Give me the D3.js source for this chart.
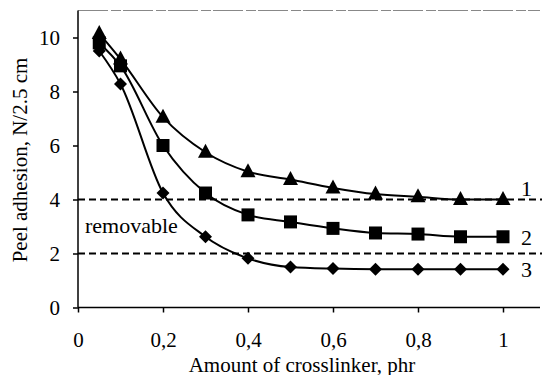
<html>
<head>
<style>
  body { margin: 0; background: #fff; }
  text { font-family: "Liberation Serif", "Times New Roman", serif; }
</style>
</head>
<body>
<div id="chart"></div>
<script src="https://d3js.org/d3.v7.min.js"></script>
<script>
// crosslinker amount, phr
var amounts = [0.05, 0.1, 0.2, 0.3, 0.4, 0.5, 0.6, 0.7, 0.8, 0.9, 1.0];
// peel adhesion, N/2.5 cm
var curve1 = [10.15, 9.2, 7.05, 5.75, 5.03, 4.74, 4.43, 4.2, 4.1, 4.0, 4.0];
var curve2 = [9.8, 8.95, 6.0, 4.24, 3.43, 3.17, 2.93, 2.76, 2.72, 2.62, 2.62];
var curve3 = [9.5, 8.28, 4.24, 2.62, 1.82, 1.5, 1.44, 1.42, 1.42, 1.42, 1.42];
var seriesNames = ["1", "2", "3"];
var limits = [4, 2];
var xTicks = [0, 0.2, 0.4, 0.6, 0.8, 1];
var yTicks = [0, 2, 4, 6, 8, 10];

var margin = { top: 10.5, left: 78 },
    height = 297;

var svg = d3.select("#chart").append("svg")
    .attr("width", 542).attr("height", 375)
    .append("g")
    .attr("transform", "translate(" + margin.left + "," + margin.top + ")");

var x = d3.scaleLinear().domain([0, 1.1]).range([0, 467.5]);
var y = d3.scaleLinear().domain([0, 11]).range([height, 0]);

// faint top border
svg.append("line")
    .attr("x1", 0).attr("x2", 462).attr("y1", 0).attr("y2", 0)
    .attr("stroke", "#888").attr("stroke-width", 1)
    .attr("stroke-dasharray", "30,3,10,2");

// dashed limit lines
svg.selectAll(".limit").data(limits).enter().append("line")
    .attr("x1", 0).attr("x2", 464)
    .attr("y1", function (d) { return y(d); })
    .attr("y2", function (d) { return y(d); })
    .attr("stroke", "black").attr("stroke-width", 2)
    .attr("stroke-dasharray", "7,4");

var xAxis = svg.append("g")
    .attr("transform", "translate(0," + height + ")")
    .call(d3.axisBottom(x).tickValues(xTicks).tickSize(5).tickPadding(20)
        .tickFormat(function (d) { return d === 0 || d === 1 ? d : String(d).replace(".", ","); }));
var yAxis = svg.append("g")
    .call(d3.axisLeft(y).tickValues(yTicks).tickSize(5).tickPadding(13));

[xAxis, yAxis].forEach(function (a) {
    a.attr("font-family", null).attr("font-size", null);
    a.select(".domain").attr("stroke-width", 1.5);
    a.selectAll(".tick line").attr("stroke-width", 1.5);
    a.selectAll("text").style("font-size", "21px").attr("fill", "black");
});
xAxis.select(".domain").attr("d", "M0,0H462");
yAxis.select(".domain").attr("d", "M0,0V" + height);

var line = d3.line()
    .x(function (d) { return x(d[0]); })
    .y(function (d) { return y(d[1]); })
    .curve(d3.curveMonotoneX);

var markers = [
    "M0,-8.5L7.5,5.5L-7.5,5.5Z",    // triangle
    "M-6.5,-6.5H6.5V6.5H-6.5Z",     // square
    "M0,-6.5L6.5,0L0,6.5L-6.5,0Z"   // diamond
];
var labelShift = [-4, 8, 8];

[curve1, curve2, curve3].forEach(function (vals, i) {
    var pts = amounts.map(function (a, j) { return [a, vals[j]]; });
    svg.append("path").datum(pts)
        .attr("fill", "none").attr("stroke", "black").attr("stroke-width", 2)
        .attr("d", line);
    svg.selectAll(".m" + i).data(pts).enter().append("path")
        .attr("transform", function (d) { return "translate(" + x(d[0]) + "," + y(d[1]) + ")"; })
        .attr("d", markers[i])
        .attr("fill", "black");
    svg.append("text")
        .attr("x", x(1) + 18)
        .attr("y", y(vals[vals.length - 1]) + labelShift[i])
        .style("font-size", "22px")
        .text(seriesNames[i]);
});

svg.append("text")
    .attr("x", 7).attr("y", y(3) + 6)
    .style("font-size", "22px")
    .text("removable");

// axis titles
svg.append("text")
    .attr("x", 224).attr("y", height + 64)
    .attr("text-anchor", "middle")
    .style("font-size", "21px")
    .text("Amount of crosslinker, phr");
svg.append("text")
    .attr("transform", "rotate(-90)")
    .attr("x", -149.5).attr("y", -51)
    .attr("text-anchor", "middle")
    .style("font-size", "21px")
    .text("Peel adhesion, N/2.5 cm");
</script>
</body>
</html>
